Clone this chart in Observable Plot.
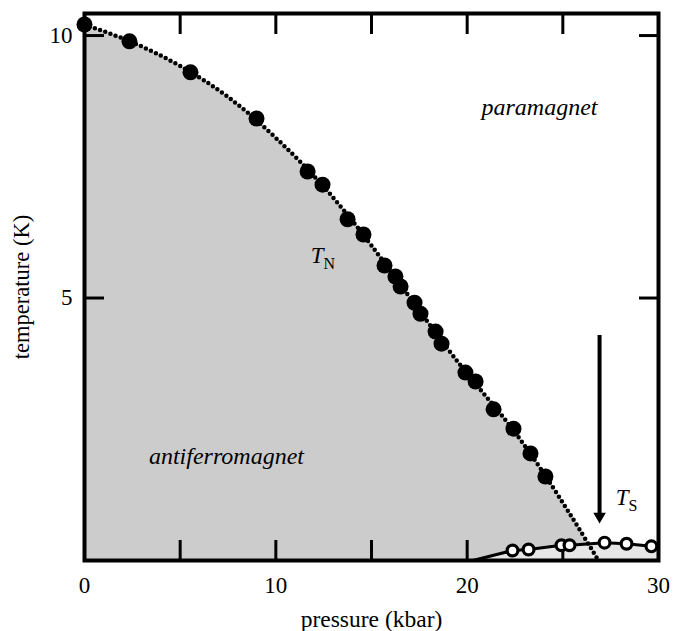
<!DOCTYPE html>
<html><head><meta charset="utf-8">
<script src="https://cdn.jsdelivr.net/npm/d3@7"></script>
<script src="https://cdn.jsdelivr.net/npm/@observablehq/plot@0.6"></script>
<style>
body{margin:0;background:#fff}
#chart svg, #chart svg text { font-family: "Liberation Serif", "Times New Roman", serif !important; }
</style>
</head><body><div id="chart"></div>
<script>
// Néel temperature T_N (filled circles)
const tnP = [0, 2.35, 5.54, 8.99, 11.66, 12.44, 13.75, 14.58, 15.68, 16.25, 16.52, 17.25, 17.56, 18.35, 18.66, 19.91, 20.44, 21.38, 22.42, 23.31, 24.09];
const tnT = [10.21, 9.89, 9.30, 8.42, 7.41, 7.16, 6.50, 6.21, 5.62, 5.41, 5.22, 4.91, 4.70, 4.36, 4.13, 3.58, 3.41, 2.88, 2.51, 2.04, 1.60];
// Smooth T_N guide curve (dotted)
const fitP = [0, 2.5, 5, 7.5, 10, 12.5, 15, 17.5, 20, 22.5, 25, 26.86];
const fitT = [10.21, 9.87, 9.42, 8.83, 8.05, 7.12, 6.0, 4.76, 3.56, 2.44, 1.1, 0];
// T_S (open circles)
const tsP = [22.37, 23.21, 24.93, 25.35, 27.18, 28.33, 29.63];
const tsT = [0.19, 0.21, 0.29, 0.29, 0.34, 0.32, 0.27];
// T_S solid line (start at the axis) and its light fill
const tsLineP = [20.3, ...tsP];
const tsLineT = [0, ...tsT];
const tsFillP = [...tsLineP, 30];
const tsFillT = [...tsLineT, 0.26];
// Arrow marking T_S
const arrowP = 26.92, arrowTop = 4.17, arrowTip = 0.67;
// Tick values
const xMinor = [5, 10, 15, 20, 25];
const xLabels = [0, 10, 20, 30];
const yTicks = [5, 10];
// Region labels
const regionText = ["paramagnet", "antiferromagnet"];
const regionP = [23.78, 7.42];
const regionT = [8.63, 1.99];
// Symbol labels (T with subscript)
const symSub = ["N", "S"];
const symP = [12.49, 28.43];
const symT = [5.81, 1.20];

const idx = n => d3.range(n);
const FONT = "Liberation Serif";

const chart = Plot.plot({
  width: 677, height: 631,
  marginLeft: 84, marginRight: 19, marginTop: 13, marginBottom: 71,
  x: {domain: [0, 30]},
  y: {domain: [0, 10.42]},
  style: {fontFamily: FONT, background: "white", color: "black", overflow: "visible"},
  marks: [
    Plot.areaY(idx(fitP.length), {x: i => fitP[i], y: i => fitT[i], curve: "natural", fill: "#cccccc", clip: true}),
    Plot.areaY(idx(tsFillP.length), {x: i => tsFillP[i], y: i => tsFillT[i], fill: "#e6e6e6", clip: true}),
    Plot.line(idx(fitP.length), {x: i => fitP[i], y: i => fitT[i], curve: "natural", stroke: "black", strokeWidth: 4.5, strokeDasharray: "0,5.5", strokeLinecap: "round", clip: true}),
    Plot.line(idx(tsLineP.length), {x: i => tsLineP[i], y: i => tsLineT[i], stroke: "black", strokeWidth: 3}),
    Plot.frame({stroke: "black", strokeWidth: 4}),
    Plot.axisX(xMinor, {anchor: "bottom", tickSize: -20, strokeWidth: 3, tickFormat: () => "", label: null}),
    Plot.axisX(xMinor, {anchor: "top", tickSize: -20, strokeWidth: 3, tickFormat: () => "", label: null}),
    Plot.axisY(yTicks, {anchor: "left", tickSize: -20, strokeWidth: 3, tickFormat: () => "", label: null}),
    Plot.axisY(yTicks, {anchor: "right", tickSize: -20, strokeWidth: 3, tickFormat: () => "", label: null}),
    Plot.axisX(xLabels, {anchor: "bottom", tickSize: 0, tickPadding: 16, fontSize: 23, fontFamily: FONT, tickFormat: d => String(d), label: null}),
    Plot.axisY(yTicks, {anchor: "left", tickSize: 0, tickPadding: 12, fontSize: 23, fontFamily: FONT, tickFormat: d => String(d), label: null}),
    Plot.dot(idx(tnP.length), {x: i => tnP[i], y: i => tnT[i], r: 8, fill: "black"}),
    Plot.dot(idx(tsP.length), {x: i => tsP[i], y: i => tsT[i], r: 5.4, fill: "white", stroke: "black", strokeWidth: 3.2}),
    Plot.ruleX([arrowP], {x: d => d, y1: arrowTop, y2: arrowTip, stroke: "black", strokeWidth: 4, dy: -6}),
    Plot.dot([arrowP], {x: d => d, y: arrowTip, symbol: "triangle2", r: 6, rotate: 180, fill: "black", dy: -9}),
    Plot.text(regionText, {x: (d, i) => regionP[i], y: (d, i) => regionT[i], text: d => d, fontSize: 24, fontStyle: "italic", fontFamily: FONT}),
    Plot.text(symSub, {x: (d, i) => symP[i], y: (d, i) => symT[i], text: () => "T", fontSize: 23, fontStyle: "italic", textAnchor: "end", fontFamily: FONT}),
    Plot.text(symSub, {x: (d, i) => symP[i], y: (d, i) => symT[i], text: d => d, fontSize: 16, textAnchor: "start", dy: 8.5, fontFamily: FONT}),
    Plot.text(["pressure (kbar)"], {frameAnchor: "bottom", text: d => d, dy: 59, fontSize: 23.5, lineAnchor: "middle", textAnchor: "middle", fontFamily: FONT}),
    Plot.text(["temperature (K)"], {frameAnchor: "left", text: d => d, rotate: -90, dx: -63, fontSize: 22.5, lineAnchor: "middle", textAnchor: "middle", fontFamily: FONT})
  ]
});
document.getElementById("chart").appendChild(chart);
</script>
</body></html>
